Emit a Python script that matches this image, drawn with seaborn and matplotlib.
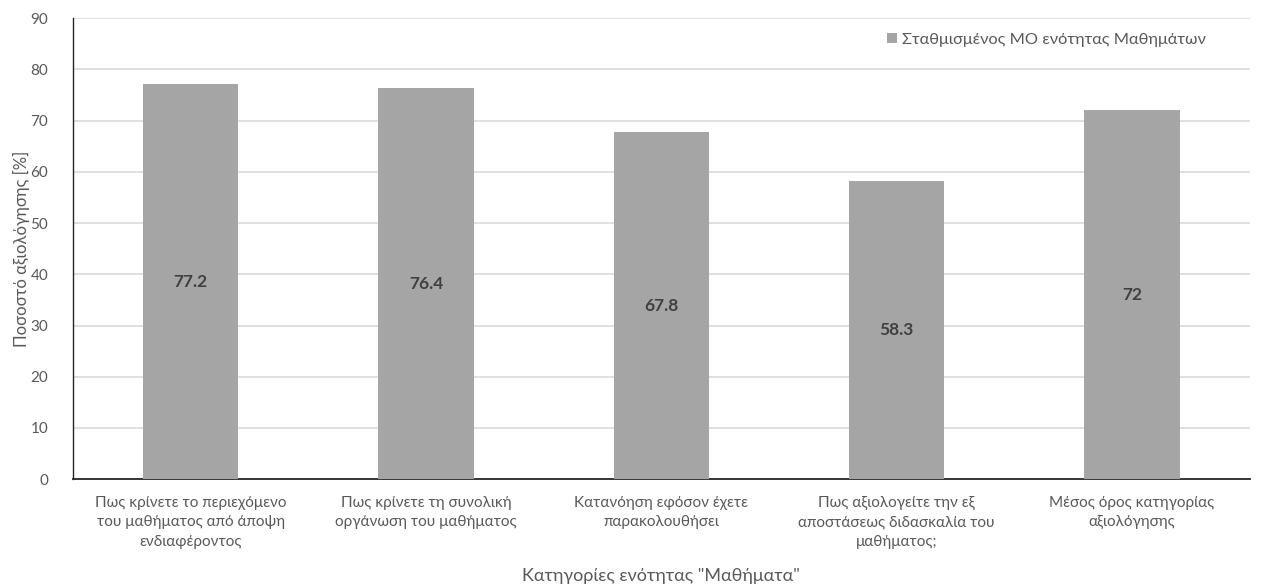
import matplotlib
matplotlib.use("Agg")
import matplotlib.pyplot as plt
import seaborn as sns
import pandas as pd
from matplotlib.patches import Patch

categories = [
    "Πως κρίνετε το περιεχόμενο\nτου μαθήματος από άποψη\nενδιαφέροντος",
    "Πως κρίνετε τη συνολική\nοργάνωση του μαθήματος",
    "Κατανόηση εφόσον έχετε\nπαρακολουθήσει",
    "Πως αξιολογείτε την εξ\nαποστάσεως διδασκαλία του\nμαθήματος;",
    "Μέσος όρος κατηγορίας\nαξιολόγησης",
]
values = [77.2, 76.4, 67.8, 58.3, 72]
value_labels = ["77.2", "76.4", "67.8", "58.3", "72"]
series_name = "Σταθμισμένος ΜΟ ενότητας Μαθημάτων"
y_ticks = [0, 10, 20, 30, 40, 50, 60, 70, 80, 90]

sns.set_theme(style="white")
plt.rcParams["font.family"] = ["Lato", "DejaVu Sans"]

df = pd.DataFrame({"cat": categories, "val": values})

fig = plt.figure(figsize=(12.61, 5.88), dpi=100)
ax = fig.add_axes([0.058, 0.185, 0.933, 0.784])

bar_color = "#a5a5a5"
text_color = "#595959"

sns.barplot(data=df, x="cat", y="val", color=bar_color, width=0.405, ax=ax,
            saturation=1, linewidth=0, edgecolor="none", zorder=3)

ax.set_ylim(0, 90)
ax.set_yticks(y_ticks)
ax.yaxis.grid(True, color="#d9d9d9", linewidth=1.2, zorder=0)
ax.set_axisbelow(True)

for s in ["top", "right"]:
    ax.spines[s].set_visible(False)
ax.spines["left"].set_color("#262626")
ax.spines["left"].set_linewidth(1.0)
ax.spines["bottom"].set_color("#262626")
ax.spines["bottom"].set_linewidth(1.3)

ax.tick_params(axis="y", length=0, labelsize=11, labelcolor=text_color, pad=18)
ax.tick_params(axis="x", length=0, labelsize=11, labelcolor=text_color, pad=12)
for t in ax.get_xticklabels():
    t.set_linespacing(1.5)
ax.set_xlabel('Κατηγορίες ενότητας "Μαθήματα"', fontsize=13, color=text_color, labelpad=14)
ax.set_ylabel("Ποσοστό αξιολόγησης [%]", fontsize=12, color=text_color, labelpad=0)

for p, lab in zip(ax.patches, value_labels):
    ax.text(p.get_x() + p.get_width() / 2, p.get_height() / 2, lab,
            ha="center", va="center", fontsize=12.5, fontweight="bold",
            color="#404040", zorder=4)

handles = [Patch(facecolor=bar_color, edgecolor="none", label=series_name)]
leg = ax.legend(handles=handles, loc="upper right", bbox_to_anchor=(0.975, 1.0),
                frameon=False, fontsize=11.8, handlelength=0.6, handleheight=0.6,
                handletextpad=0.3, labelcolor=text_color)

fig.savefig("out.png", dpi=100)
